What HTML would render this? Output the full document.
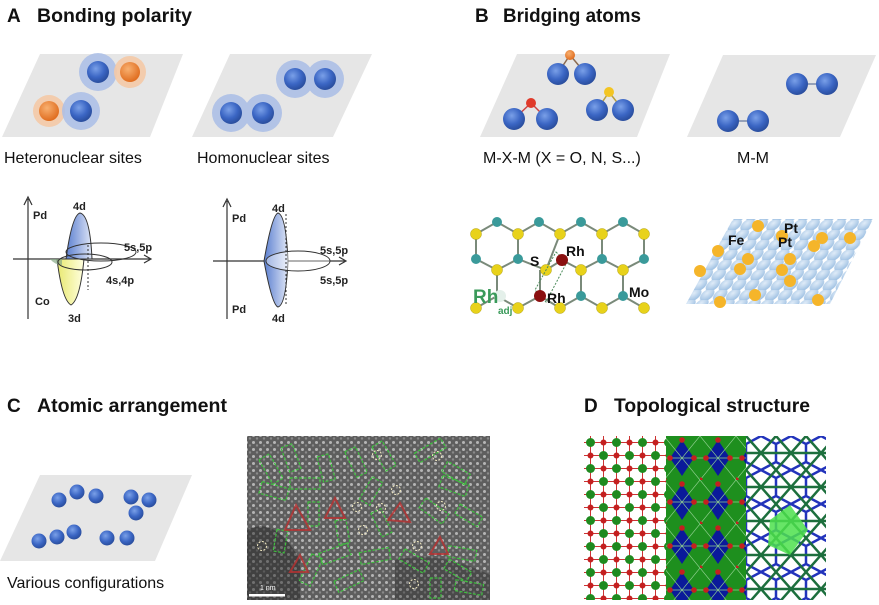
<!DOCTYPE html>
<html><head><meta charset="utf-8"><style>
html,body{margin:0;padding:0;background:#fff;}
svg{display:block;font-family:"Liberation Sans",sans-serif;}
.t{font-weight:bold;font-size:19px;fill:#111;}
.l{font-size:16px;fill:#111;}
.g{font-weight:bold;font-size:11px;fill:#222;}
.b{font-weight:bold;font-size:14px;fill:#111;}
</style></head><body>
<svg width="879" height="605" viewBox="0 0 879 605" xmlns="http://www.w3.org/2000/svg">
<defs>
<radialGradient id="bl" cx="40%" cy="35%" r="65%"><stop offset="0" stop-color="#7aa0e8"/><stop offset="0.6" stop-color="#3b66c4"/><stop offset="1" stop-color="#2a4e9e"/></radialGradient>
<radialGradient id="or" cx="40%" cy="35%" r="65%"><stop offset="0" stop-color="#f8b070"/><stop offset="1" stop-color="#e06d1f"/></radialGradient>
<radialGradient id="lb" cx="40%" cy="35%" r="65%"><stop offset="0" stop-color="#e0ecf8"/><stop offset="1" stop-color="#9fc1e3"/></radialGradient>
<linearGradient id="lobe" x1="0" y1="0" x2="1" y2="0"><stop offset="0" stop-color="#5b7fd0"/><stop offset="1" stop-color="#dfe6f6"/></linearGradient>
<linearGradient id="yl" x1="0" y1="0" x2="1" y2="0"><stop offset="0" stop-color="#e8e870"/><stop offset="1" stop-color="#ffffe0"/></linearGradient>
<pattern id="fept" width="13" height="10" patternUnits="userSpaceOnUse" patternTransform="skewX(-30)">
<circle cx="6.5" cy="5" r="6.3" fill="url(#lb)"/></pattern>
<pattern id="stem" width="7" height="7" patternUnits="userSpaceOnUse">
<rect width="7" height="7" fill="#5e5e5e"/><circle cx="1.5" cy="1.5" r="1.5" fill="#b5b5b5"/><circle cx="5" cy="4.5" r="1.2" fill="#8a8a8a"/></pattern>
<pattern id="dL" width="26" height="26" patternUnits="userSpaceOnUse" x="584" y="436">
<rect width="26" height="26" fill="#fff"/>
<path d="M0 6.5H26M0 19.5H26M6.5 0V26M19.5 0V26" stroke="#c33" stroke-width="1"/>
<circle cx="6.5" cy="6.5" r="4.5" fill="#1f8a1f"/><circle cx="19.5" cy="19.5" r="4.5" fill="#1f8a1f"/>
<circle cx="19.5" cy="6.5" r="3" fill="#c42020"/><circle cx="6.5" cy="19.5" r="3" fill="#c42020"/></pattern>
<pattern id="dM" width="36" height="44" patternUnits="userSpaceOnUse" x="664" y="436">
<rect width="36" height="44" fill="#1e8f1e"/>
<path d="M18 4L30 22L18 40L6 22Z" fill="#0a1a9a"/>
<path d="M0 22H36M0 0L36 44M36 0L0 44" stroke="#8fd08f" stroke-width="0.7"/>
<circle cx="18" cy="4" r="2.8" fill="#c42020"/><circle cx="6" cy="22" r="2.8" fill="#c42020"/><circle cx="30" cy="22" r="2.8" fill="#c42020"/><circle cx="0" cy="44" r="2.8" fill="#c42020"/></pattern>
<pattern id="dR" width="30" height="34" patternUnits="userSpaceOnUse" x="746" y="436">
<rect width="30" height="34" fill="#fff"/>
<path d="M0 8L15 0L30 8V26L15 34L0 26Z" fill="none" stroke="#2233bb" stroke-width="2.5"/>
<path d="M0 0L30 34M30 0L0 34M0 17H30" stroke="#1d6f3d" stroke-width="2.5"/></pattern>
</defs>

<!-- Titles -->
<text x="7" y="22" class="t">A</text><text x="37" y="22" class="t" textLength="155" lengthAdjust="spacingAndGlyphs">Bonding polarity</text>
<text x="475" y="22" class="t">B</text><text x="503" y="22" class="t" textLength="138" lengthAdjust="spacingAndGlyphs">Bridging atoms</text>
<text x="7" y="412" class="t">C</text><text x="37" y="412" class="t" textLength="190" lengthAdjust="spacingAndGlyphs">Atomic arrangement</text>
<text x="584" y="412" class="t">D</text><text x="614" y="412" class="t" textLength="196" lengthAdjust="spacingAndGlyphs">Topological structure</text>

<!-- A top -->
<polygon points="2,137 40,54 183,54 150,137" fill="#e6e6e6"/>
<polygon points="192,137 230,54 372,54 333,137" fill="#e6e6e6"/>
<circle cx="98" cy="72" r="19" fill="#a9bde6" opacity="0.85"/><circle cx="98" cy="72" r="11" fill="url(#bl)"/>
<circle cx="130" cy="72" r="16" fill="#f4c9a6" opacity="0.9"/><circle cx="130" cy="72" r="10" fill="url(#or)"/>
<circle cx="49" cy="111" r="16" fill="#f4c9a6" opacity="0.9"/><circle cx="49" cy="111" r="10" fill="url(#or)"/>
<circle cx="81" cy="111" r="19" fill="#a9bde6" opacity="0.85"/><circle cx="81" cy="111" r="11" fill="url(#bl)"/>
<g fill="#a9bde6" opacity="0.85"><circle cx="295" cy="79" r="19"/><circle cx="325" cy="79" r="19"/><circle cx="231" cy="113" r="19"/><circle cx="263" cy="113" r="19"/></g>
<g fill="url(#bl)"><circle cx="295" cy="79" r="11"/><circle cx="325" cy="79" r="11"/><circle cx="231" cy="113" r="11"/><circle cx="263" cy="113" r="11"/></g>
<text x="4" y="163" class="l">Heteronuclear sites</text>
<text x="197" y="163" class="l">Homonuclear sites</text>

<!-- A graphs -->
<g stroke="#333" stroke-width="1.2" fill="none">
<path d="M28 319V199M24 205L28 197L32 205"/><path d="M13 259H150M144 255L151 259L144 263"/>
<path d="M227 319V201M223 207L227 199L231 207"/><path d="M213 261H345M339 257L346 261L339 265"/>
</g>
<path d="M66 259Q72 215 80 213Q90 215 92 259Z" fill="url(#lobe)" stroke="#333"/>
<path d="M57 259Q62 300 71 305Q80 300 84 259Z" fill="url(#yl)" stroke="#333"/>
<path d="M50 259Q55 265 62 265L62 259Z" fill="#8a8" opacity="0.7"/>
<ellipse cx="101" cy="252" rx="35" ry="9" fill="none" stroke="#333"/>
<ellipse cx="85" cy="262" rx="27" ry="8" fill="none" stroke="#333"/>
<path d="M88 245V290" stroke="#333" stroke-dasharray="2,2"/>
<path d="M264 261Q272 215 278 213Q286 215 288 261Q286 305 278 307Q272 305 264 261Z" fill="url(#lobe)" stroke="#333"/>
<ellipse cx="298" cy="261" rx="32" ry="10" fill="rgba(255,255,255,0.4)" stroke="#333"/>
<path d="M286 214V305" stroke="#333" stroke-dasharray="2,2"/>
<g class="g">
<text x="33" y="219">Pd</text><text x="73" y="210">4d</text><text x="124" y="251">5s,5p</text><text x="106" y="284">4s,4p</text><text x="35" y="305">Co</text><text x="68" y="322">3d</text>
<text x="232" y="222">Pd</text><text x="272" y="212">4d</text><text x="320" y="254">5s,5p</text><text x="320" y="284">5s,5p</text><text x="232" y="313">Pd</text><text x="272" y="322">4d</text>
</g>

<!-- B top -->
<polygon points="480,137 517,54 670,54 637,137" fill="#e6e6e6"/>
<polygon points="687,137 723,55 876,55 840,137" fill="#e6e6e6"/>
<g stroke-width="1.5" fill="none"><path d="M558 73L570 55L585 73" stroke="#8a6a50"/><path d="M514 119L531 103L547 119" stroke="#c44"/><path d="M597 110L609 92L623 110" stroke="#b9a040"/><path d="M728 121H758M797 84H827" stroke="#7a8aaa"/></g>
<circle cx="570" cy="55" r="5" fill="url(#or)"/><circle cx="531" cy="103" r="5" fill="#e03a2a"/><circle cx="609" cy="92" r="5" fill="#f3c522"/>
<g fill="url(#bl)"><circle cx="558" cy="74" r="11"/><circle cx="585" cy="74" r="11"/><circle cx="514" cy="119" r="11"/><circle cx="547" cy="119" r="11"/><circle cx="597" cy="110" r="11"/><circle cx="623" cy="110" r="11"/>
<circle cx="728" cy="121" r="11"/><circle cx="758" cy="121" r="11"/><circle cx="797" cy="84" r="11"/><circle cx="827" cy="84" r="11"/></g>
<text x="483" y="163" class="l">M-X-M (X = O, N, S...)</text>
<text x="737" y="163" class="l">M-M</text>

<!-- B MoS2 lattice -->
<g stroke="#7a8a7a" stroke-width="2" fill="none">
<path d="M476 234L497 222L518 234L539 222L560 234L581 222L602 234L623 222L644 234"/>
<path d="M476 234V259M518 234V259M602 234V259M644 234V259M560 234L546 270"/>
<path d="M476 259L497 270L518 259L546 270L562 260L581 270L602 259L623 270L644 259"/>
<path d="M497 270V296M540 270V296M581 270V296M623 270V296"/>
<path d="M476 308L497 296L518 308L540 296L560 308L581 296L602 308L623 296L644 308"/>
</g>
<g fill="#e8d21a" stroke="#b0a010" stroke-width="0.5">
<circle cx="476" cy="234" r="5.5"/><circle cx="518" cy="234" r="5.5"/><circle cx="560" cy="234" r="5.5"/><circle cx="602" cy="234" r="5.5"/><circle cx="644" cy="234" r="5.5"/>
<circle cx="497" cy="270" r="5.5"/><circle cx="546" cy="270" r="5.5"/><circle cx="581" cy="270" r="5.5"/><circle cx="623" cy="270" r="5.5"/>
<circle cx="476" cy="308" r="5.5"/><circle cx="518" cy="308" r="5.5"/><circle cx="560" cy="308" r="5.5"/><circle cx="602" cy="308" r="5.5"/><circle cx="644" cy="308" r="5.5"/>
</g>
<g fill="#3a9a9a"><circle cx="497" cy="222" r="5"/><circle cx="539" cy="222" r="5"/><circle cx="581" cy="222" r="5"/><circle cx="623" cy="222" r="5"/>
<circle cx="476" cy="259" r="5"/><circle cx="518" cy="259" r="5"/><circle cx="602" cy="259" r="5"/><circle cx="644" cy="259" r="5"/>
<circle cx="581" cy="296" r="5"/><circle cx="623" cy="296" r="5"/></g>
<circle cx="500" cy="296" r="6" fill="#e4f0ea"/>
<path d="M556 252L567 262L546 302L535 290Z" fill="none" stroke="#4a8a5a" stroke-dasharray="2,1.5"/>
<circle cx="562" cy="260" r="6" fill="#8a1010"/><circle cx="540" cy="296" r="6" fill="#8a1010"/>
<text x="566" y="256" class="b">Rh</text><text x="530" y="266" class="b">S</text><text x="547" y="303" class="b">Rh</text><text x="629" y="297" class="b">Mo</text>
<text x="473" y="303" font-weight="bold" font-size="19" fill="#3a9a5a">Rh</text><text x="498" y="314" font-weight="bold" font-size="10" fill="#3a9a5a">adj</text>

<!-- B FePt -->
<polygon points="733,219 873,219 830,304 686,304" fill="url(#fept)"/>
<g fill="#f5b52a"><circle cx="758" cy="226" r="6"/><circle cx="782" cy="236" r="6"/><circle cx="822" cy="238" r="6"/><circle cx="850" cy="238" r="6"/><circle cx="814" cy="246" r="6"/>
<circle cx="718" cy="251" r="6"/><circle cx="748" cy="259" r="6"/><circle cx="790" cy="259" r="6"/><circle cx="740" cy="269" r="6"/><circle cx="782" cy="270" r="6"/><circle cx="790" cy="281" r="6"/>
<circle cx="700" cy="271" r="6"/><circle cx="755" cy="295" r="6"/><circle cx="720" cy="302" r="6"/><circle cx="818" cy="300" r="6"/></g>
<text x="728" y="245" class="b">Fe</text><text x="784" y="233" class="b">Pt</text><text x="778" y="247" class="b">Pt</text>

<!-- C -->
<polygon points="0,561 40,475 192,475 155,561" fill="#e6e6e6"/>
<g fill="url(#bl)"><circle cx="59" cy="500" r="7.5"/><circle cx="77" cy="492" r="7.5"/><circle cx="96" cy="496" r="7.5"/><circle cx="131" cy="497" r="7.5"/><circle cx="149" cy="500" r="7.5"/><circle cx="136" cy="513" r="7.5"/>
<circle cx="39" cy="541" r="7.5"/><circle cx="57" cy="537" r="7.5"/><circle cx="74" cy="532" r="7.5"/><circle cx="107" cy="538" r="7.5"/><circle cx="127" cy="538" r="7.5"/></g>
<text x="7" y="588" class="l">Various configurations</text>

<!-- STEM -->
<rect x="247" y="436" width="243" height="164" fill="url(#stem)"/>
<path d="M247 530Q275 515 300 560L300 600H247Z" fill="#1e1e1e" opacity="0.45"/>
<path d="M395 560Q440 550 490 575L490 600H395Z" fill="#1e1e1e" opacity="0.3"/>
<g fill="none" stroke="#3ec03e" stroke-width="1.2" stroke-dasharray="3,1.5">
<rect x="265" y="455" width="12" height="28" transform="rotate(-30 271 469)"/><rect x="285" y="445" width="12" height="26" transform="rotate(-20 291 458)"/>
<rect x="260" y="485" width="28" height="12" transform="rotate(15 274 491)"/><rect x="290" y="478" width="30" height="11"/>
<rect x="320" y="455" width="12" height="26" transform="rotate(-15 326 468)"/><rect x="350" y="448" width="12" height="28" transform="rotate(-25 356 462)"/>
<rect x="378" y="442" width="12" height="28" transform="rotate(-30 384 456)"/><rect x="365" y="478" width="12" height="26" transform="rotate(30 371 491)"/>
<rect x="415" y="445" width="30" height="11" transform="rotate(-30 430 450)"/><rect x="450" y="460" width="12" height="26" transform="rotate(-60 456 473)"/>
<rect x="440" y="480" width="28" height="12" transform="rotate(20 454 486)"/><rect x="420" y="505" width="28" height="12" transform="rotate(35 434 511)"/>
<rect x="456" y="510" width="26" height="11" transform="rotate(30 469 515)"/><rect x="308" y="502" width="11" height="24"/>
<rect x="337" y="520" width="11" height="24" transform="rotate(-10 342 532)"/><rect x="376" y="510" width="11" height="26" transform="rotate(-25 381 523)"/>
<rect x="275" y="530" width="11" height="22" transform="rotate(10 280 541)"/><rect x="320" y="548" width="30" height="12" transform="rotate(-20 335 554)"/>
<rect x="305" y="555" width="12" height="30" transform="rotate(25 311 570)"/><rect x="335" y="575" width="28" height="12" transform="rotate(-25 349 581)"/>
<rect x="360" y="550" width="30" height="12" transform="rotate(-10 375 556)"/><rect x="400" y="555" width="28" height="12" transform="rotate(30 414 561)"/>
<rect x="448" y="548" width="28" height="11" transform="rotate(10 462 553)"/><rect x="445" y="565" width="26" height="11" transform="rotate(30 458 570)"/>
<rect x="430" y="578" width="11" height="20"/><rect x="455" y="582" width="28" height="11" transform="rotate(10 469 587)"/>
</g>
<g fill="none" stroke="#b83030" stroke-width="2" opacity="0.8">
<path d="M296 505L310 530L285 530Z"/><path d="M335 498L345 518L325 518Z"/><path d="M400 503L410 522L388 520Z"/><path d="M440 537L448 554L430 554Z"/><path d="M300 555L308 572L290 572Z"/>
</g>
<g fill="none" stroke="#f0e8c0" stroke-width="1" stroke-dasharray="2,1.5">
<circle cx="262" cy="546" r="4.5"/><circle cx="377" cy="455" r="4.5"/><circle cx="437" cy="456" r="4.5"/><circle cx="396" cy="490" r="4.5"/><circle cx="357" cy="507" r="4.5"/><circle cx="381" cy="508" r="4.5"/><circle cx="441" cy="506" r="4.5"/><circle cx="363" cy="530" r="4.5"/><circle cx="417" cy="546" r="4.5"/><circle cx="414" cy="584" r="4.5"/>
</g>
<rect x="249" y="594" width="36" height="2.5" fill="#fff"/><text x="260" y="590" font-size="7" fill="#fff">1 nm</text>

<!-- D -->
<rect x="584" y="436" width="82" height="164" fill="url(#dL)"/>
<rect x="666" y="436" width="80" height="164" fill="url(#dM)"/>
<rect x="746" y="436" width="80" height="164" fill="url(#dR)"/>
<path d="M770 520L790 505L808 530L790 555L768 545Z" fill="#4ce04c" opacity="0.85"/>
</svg>
</body></html>
